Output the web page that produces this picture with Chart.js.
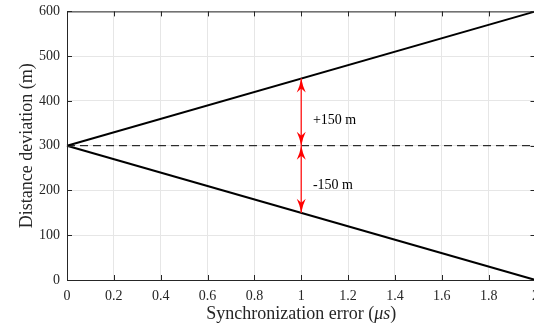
<!DOCTYPE html>
<html><head><meta charset="utf-8">
<script src="https://cdn.jsdelivr.net/npm/chart.js@4/dist/chart.umd.min.js"></script>
<style>html,body{margin:0;padding:0;background:#fff;overflow:hidden}#wrap{width:534px;height:328px;overflow:hidden}#c{display:block;margin-top:-4px}</style>
</head><body><div id="wrap"><canvas id="c" width="547" height="332"></canvas></div>
<script>
const xPoints = [0, 2];
const upperY = [300, 600];
const lowerY = [300, 0];
const refY = [300, 300];
const arrowX = 1;
const arrowSpans = [[300, 450], [300, 150]];
const noteLabels = ['+150 m', '-150 m'];
const noteX = [1.05, 1.05];
const noteY = [357, 212];
const xTicks = [0, 0.2, 0.4, 0.6, 0.8, 1, 1.2, 1.4, 1.6, 1.8, 2];
const yTicks = [0, 100, 200, 300, 400, 500, 600];
const xTitleParts = [['Synchronization error (', false], ['μs', true], [')', false]];

const SERIF = '"Liberation Serif", "Times New Roman", serif';
const pts = ys => xPoints.map((x, i) => ({x, y: ys[i]}));

const overlay = {
  id: 'overlay',
  afterDatasetsDraw(chart) {
    const {ctx, chartArea: a, scales: {x, y}} = chart;
    ctx.save();
    ctx.strokeStyle = '#262626'; ctx.lineWidth = 1;
    ctx.strokeRect(a.left + 0.5, a.top + 0.5, a.right - a.left - 1, a.bottom - a.top);
    ctx.beginPath();
    xTicks.forEach(v => { const px = Math.round(x.getPixelForValue(v)) + 0.5;
      ctx.moveTo(px, a.bottom); ctx.lineTo(px, a.bottom - 5);
      ctx.moveTo(px, a.top); ctx.lineTo(px, a.top + 5); });
    yTicks.forEach(v => { const py = Math.round(y.getPixelForValue(v)) + 0.5;
      ctx.moveTo(a.left, py); ctx.lineTo(a.left + 5, py);
      ctx.moveTo(a.right, py); ctx.lineTo(a.right - 5, py); });
    ctx.stroke();
    const head = (px, py, dir) => {
      ctx.beginPath();
      ctx.moveTo(px, py);
      ctx.quadraticCurveTo(px - 1.5, py - dir * 8, px - 4.5, py - dir * 14);
      ctx.lineTo(px, py - dir * 10);
      ctx.lineTo(px + 4.5, py - dir * 14);
      ctx.quadraticCurveTo(px + 1.5, py - dir * 8, px, py);
      ctx.closePath(); ctx.fill();
    };
    ctx.strokeStyle = '#ff3030'; ctx.fillStyle = '#ff0000'; ctx.lineWidth = 1.5;
    const ax = x.getPixelForValue(arrowX);
    arrowSpans.forEach(([a0, a1]) => {
      const p0 = y.getPixelForValue(a0), p1 = y.getPixelForValue(a1);
      ctx.beginPath(); ctx.moveTo(ax, p0); ctx.lineTo(ax, p1); ctx.stroke();
      const d = p1 > p0 ? 1 : -1;
      head(ax, p1, d); head(ax, p0, -d);
    });
    ctx.fillStyle = '#000'; ctx.font = '14px ' + SERIF;
    ctx.textBaseline = 'middle'; ctx.textAlign = 'left';
    noteLabels.forEach((t, i) => ctx.fillText(t, x.getPixelForValue(noteX[i]), y.getPixelForValue(noteY[i])));
    const fonts = it => (it ? 'italic ' : '') + '18px ' + SERIF;
    let total = 0;
    xTitleParts.forEach(([t, it]) => { ctx.font = fonts(it); total += ctx.measureText(t).width; });
    let cx = (a.left + a.right) / 2 - total / 2;
    ctx.fillStyle = '#262626';
    xTitleParts.forEach(([t, it]) => { ctx.font = fonts(it); ctx.fillText(t, cx, 318); cx += ctx.measureText(t).width; });
    ctx.restore();
  }
};

new Chart(document.getElementById('c'), {
  type: 'line',
  data: { datasets: [
    { data: pts(upperY), borderColor: '#000', borderWidth: 2, pointRadius: 0, clip: false },
    { data: pts(lowerY), borderColor: '#000', borderWidth: 2, pointRadius: 0, clip: false },
    { data: pts(refY), borderColor: '#000', borderWidth: 1, borderDash: [8, 5], pointRadius: 0, clip: false }
  ]},
  options: {
    responsive: false, animation: false,
    layout: { padding: { top: 7, right: 0, left: 16, bottom: 0 } },
    plugins: { legend: { display: false }, tooltip: { enabled: false } },
    scales: {
      x: { type: 'linear', min: 0, max: 2,
        afterBuildTicks: s => { s.ticks = xTicks.map(v => ({value: v})); },
        afterFit: s => { s.height = 48; },
        grid: { color: '#e6e6e6', drawTicks: false },
        border: { display: false },
        ticks: { color: '#262626', font: { family: SERIF, size: 14 }, padding: 8, maxRotation: 0,
          callback: v => String(Math.round(v * 10) / 10) } },
      y: { min: 0, max: 600,
        afterBuildTicks: s => { s.ticks = yTicks.map(v => ({value: v})); },
        afterFit: s => { s.width = 51; },
        grid: { color: '#e6e6e6', drawTicks: false },
        border: { display: false },
        ticks: { color: '#262626', font: { family: SERIF, size: 14 }, padding: 7 },
        title: { display: true, text: 'Distance deviation (m)', color: '#262626',
          font: { family: SERIF, size: 18 }, padding: { top: 0, bottom: 0 } } }
    }
  },
  plugins: [overlay]
});
</script></body></html>
